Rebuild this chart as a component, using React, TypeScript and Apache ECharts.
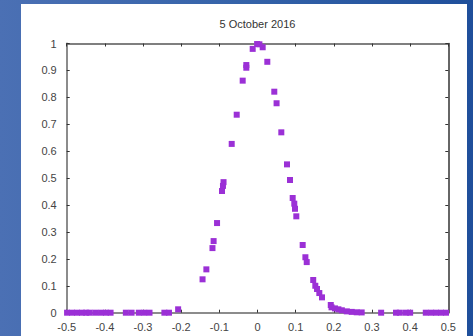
import React, { useEffect, useRef } from "react";
import * as echarts from "echarts";

const titleText = "5 October 2016";

const xValues: number[] = [
  -0.499, -0.486, -0.473, -0.46, -0.449, -0.44, -0.425, -0.41, -0.397, -0.385, -0.345, -0.33,
  -0.311, -0.297, -0.283, -0.244, -0.232, -0.208,
  -0.144, -0.134, -0.118, -0.115, -0.106, -0.093, -0.0905, -0.089, -0.0676, -0.0545,
  -0.0388, -0.0293, -0.0293, -0.0126, -0.001, 0.005, 0.0136, 0.0257, 0.044, 0.05,
  0.0624, 0.0773, 0.0852, 0.0922, 0.0964, 0.0983, 0.1017, 0.1184, 0.1255, 0.129,
  0.146, 0.1515, 0.156, 0.162, 0.169, 0.192, 0.194, 0.203, 0.212, 0.221, 0.234,
  0.247, 0.26, 0.273, 0.324, 0.363, 0.373, 0.389, 0.4, 0.441, 0.455, 0.468, 0.481, 0.494,
];

const yValues: number[] = [
  0, 0, 0, 0, 0, 0, 0, 0, 0, 0, 0, 0,
  0, 0, 0, 0, 0, 0.0126,
  0.124, 0.161, 0.24, 0.266, 0.333, 0.452, 0.471, 0.485, 0.627, 0.7355,
  0.862, 0.91, 0.92, 0.98, 0.998, 0.997, 0.986, 0.932, 0.821, 0.778,
  0.67, 0.551, 0.493, 0.426, 0.405, 0.386, 0.358, 0.2515, 0.206, 0.188,
  0.1215, 0.1, 0.088, 0.073, 0.057, 0.0286, 0.02, 0.016, 0.0126, 0.009, 0.005,
  0.003, 0.0015, 0.001, 0, 0, 0, 0, 0, 0, 0, 0, 0, 0,
];

const fmt = (v: number) => {
  const r = Math.round(v * 10) / 10;
  return r === 0 ? "0" : String(r);
};

export default function App() {
  const ref = useRef<HTMLDivElement>(null);
  useEffect(() => {
    document.body.style.margin = "0";
    if (!ref.current) return;
    const chart = echarts.init(ref.current, null, { renderer: "svg" });
    const data = xValues.map((x, i) => [x, yValues[i]]);
    const labelStyle = { color: "#444", fontSize: 11, fontFamily: "Liberation Sans, Arial, sans-serif" };
    chart.setOption({
      animation: false,
      backgroundColor: "#ffffff",
      title: {
        text: titleText,
        left: 236.5,
        top: 14,
        textAlign: "center",
        padding: 0,
        textStyle: { color: "#333", fontSize: 11, fontWeight: "normal", fontFamily: "Liberation Sans, Arial, sans-serif" },
      },
      grid: { left: 45.7, right: 18.7, top: 39.5, bottom: 23.3, containLabel: false },
      xAxis: [
        {
          type: "value",
          min: -0.5,
          max: 0.5,
          interval: 0.1,
          position: "bottom",
          splitLine: { show: false },
          axisLine: { onZero: false, lineStyle: { color: "#8c8c8c", width: 2 } },
          axisTick: { inside: true, length: 3, lineStyle: { color: "#333" } },
          axisLabel: { ...labelStyle, margin: 9, formatter: fmt },
        },
        {
          type: "value",
          min: -0.5,
          max: 0.5,
          interval: 0.1,
          position: "top",
          splitLine: { show: false },
          axisLine: { onZero: false, lineStyle: { color: "#555", width: 1.5 } },
          axisTick: { inside: true, length: 3, lineStyle: { color: "#333" } },
          axisLabel: { show: false },
        },
      ],
      yAxis: [
        {
          type: "value",
          min: 0,
          max: 1,
          interval: 0.1,
          position: "left",
          splitLine: { show: false },
          axisLine: { show: true, onZero: false, lineStyle: { color: "#8c8c8c", width: 2 } },
          axisTick: { show: true, inside: true, length: 3, lineStyle: { color: "#333" } },
          axisLabel: { ...labelStyle, margin: 10, formatter: fmt },
        },
        {
          type: "value",
          min: 0,
          max: 1,
          interval: 0.1,
          position: "right",
          splitLine: { show: false },
          axisLine: { show: true, onZero: false, lineStyle: { color: "#333", width: 1.5 } },
          axisTick: { show: true, inside: true, length: 3, lineStyle: { color: "#333" } },
          axisLabel: { show: false },
        },
      ],
      series: [
        {
          type: "scatter",
          xAxisIndex: 0,
          yAxisIndex: 0,
          symbol: "rect",
          symbolSize: 6,
          itemStyle: { color: "#9b30d6", opacity: 1 },
          data,
        },
      ],
    });
    return () => chart.dispose();
  }, []);
  return (
    <div
      style={{
        position: "relative",
        width: 473,
        height: 336,
        background: "linear-gradient(90deg, #4b70b4 0%, #3563a9 50%, #1f4f9b 100%)",
        overflow: "hidden",
      }}
    >
      <div
        ref={ref}
        style={{ position: "absolute", left: 21, top: 4, width: 446, height: 332 }}
      />
    </div>
  );
}
